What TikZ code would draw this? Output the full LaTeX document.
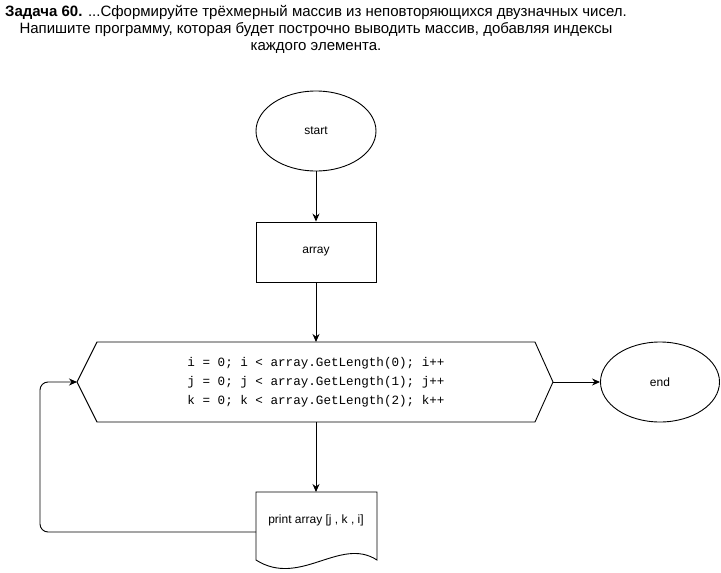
\documentclass[tikz,border=0pt]{standalone}
\usepackage{fontspec}
\setmainfont{Liberation Sans}
\newfontfamily\codefont{Liberation Mono}
\usetikzlibrary{arrows.meta,shapes.geometric}

\begin{document}
\begin{tikzpicture}[x=1pt,y=-1pt,line width=0.9pt,
  flow/.style={draw,-{Stealth[length=8pt,width=7pt]}},
  terminal/.style={draw,ellipse,minimum width=120pt,minimum height=80pt,inner sep=0pt,font=\fontsize{12}{14}\selectfont},
  procbox/.style={draw,rectangle,minimum width=120pt,minimum height=60pt,inner sep=0pt,font=\fontsize{12}{14}\selectfont},
  plain/.style={inner sep=0pt,font=\fontsize{12}{14}\selectfont}]
\useasboundingbox (0,0) rectangle (721,573);

% heading
\node[inner sep=0pt,align=center,font=\fontsize{15}{17}\selectfont] (title) at (316,29)
  {\textbf{Задача 60.} ...Сформируйте трёхмерный массив из неповторяющихся двузначных чисел.\\
   Напишите программу, которая будет построчно выводить массив, добавляя индексы\\
   каждого элемента.};

% start and initial array
\node[terminal] (start) at (316,131) {start};
\node[procbox] (array) at (316,252) {array};

% loop header (hexagon)
\draw (97,342) -- (535,342) -- (553,382) -- (535,422) -- (97,422) -- (77,382) -- cycle;
\coordinate (loopN) at (316,342);
\coordinate (loopS) at (316,422);
\coordinate (loopW) at (77,382);
\coordinate (loopE) at (553,382);
\node[inner sep=0pt,align=center,font=\codefont\fontsize{12.6}{19}\selectfont] (loop) at (316,382)
  {i = 0; i < array.GetLength(0); i++\\
   j = 0; j < array.GetLength(1); j++\\
   k = 0; k < array.GetLength(2); k++};

% end
\node[terminal,minimum width=119pt] (end) at (660,382) {end};

% output (document shape)
\draw (256,492) -- (377,492) -- (377,560)
  .. controls (340,536) and (300,588) .. (256,560) -- cycle;
\coordinate (docN) at (316,492);
\coordinate (docW) at (256,532);
\node[plain] (print) at (316,520) {print array [j , k , i]};

% connectors
\draw[flow] (start) -- (array);
\draw[flow] (array) -- (loopN);
\draw[flow] (loopE) -- (end);
\draw[flow] (loopS) -- (docN);
\draw[flow,rounded corners=8pt] (docW) -- (40,532) -- (40,382) -- (loopW);
\end{tikzpicture}
\end{document}
